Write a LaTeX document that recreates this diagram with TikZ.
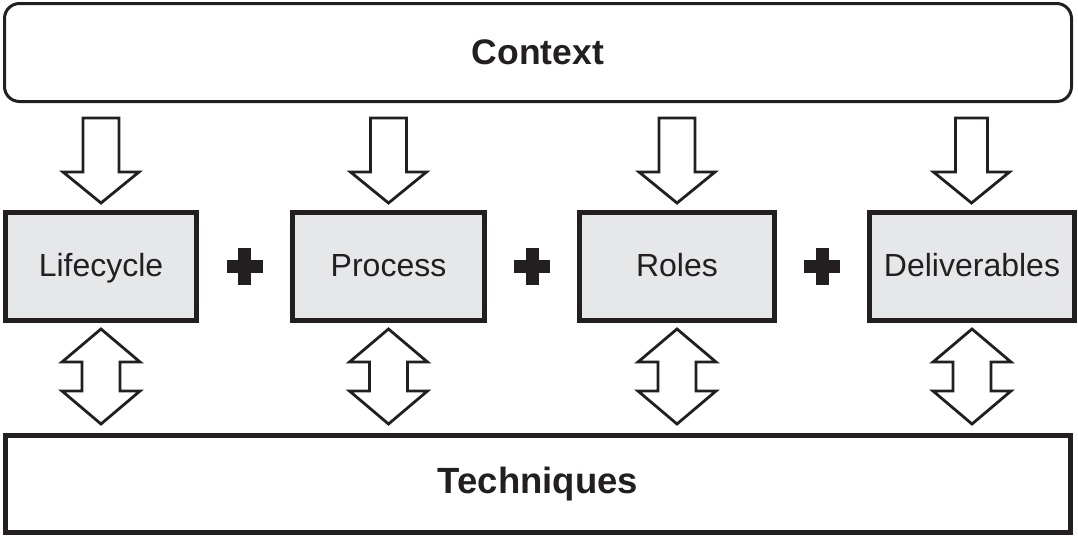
\documentclass[tikz,border=0pt]{standalone}
\usepackage{fontspec}
\setmainfont{Liberation Sans}
\usetikzlibrary{calc}
\definecolor{ink}{HTML}{231F20}
\definecolor{boxfill}{HTML}{E6E7E8}
\tikzset{
  bigbox/.style={draw=ink, line width=#1, inner sep=0pt, text=ink, font=\fontsize{35.5}{40}\selectfont\bfseries},
  midbox/.style={draw=ink, line width=5pt, fill=boxfill, inner sep=0pt, minimum height=108pt, text height=24pt, text depth=5pt, text=ink, font=\fontsize{32}{36}\selectfont},
  blk/.style={draw=ink, line width=2.8pt, fill=white, line join=miter},
  plusmark/.style={fill=ink}
}
\newcommand\downblk[1]{%
  \draw[blk] ($(#1.center)+(-18,-148.5)$) -- ++(0,54) -- ++(-20,0) -- ($(#1.center)+(0,-63.5)$)
    -- ($(#1.center)+(38,-94.5)$) -- ++(-20,0) -- ++(0,-54) -- cycle;}
\newcommand\dblblk[1]{%
  \draw[blk] ($(#1.center)+(0,62.5)$) -- ++(39,33) -- ++(-20,0) -- ++(0,29) -- ++(20,0)
    -- ($(#1.center)+(0,157.5)$) -- ++(-39,-33) -- ++(20,0) -- ++(0,-29) -- ++(-20,0) -- cycle;}
\newcommand\plussign[1]{%
  \fill[plusmark] ($(#1)+(-18,-6.25)$) rectangle ($(#1)+(18,6.25)$);
  \fill[plusmark] ($(#1)+(-6.5,-18.5)$) rectangle ($(#1)+(6.5,18.5)$);}
\begin{document}
\begin{tikzpicture}[x=1pt,y=-1pt]
\useasboundingbox (0,0) rectangle (1078,538);
\node[bigbox=3pt, rounded corners=15pt, minimum width=1067pt, minimum height=98pt] (ctx) at (538,52.5) {Context};
\node[bigbox=5pt, minimum width=1065pt, minimum height=97pt, font=\fontsize{36.5}{40}\selectfont\bfseries] (tq) at (538,484) {\raisebox{3pt}{Techniques}};
\node[midbox, minimum width=191pt] (lc) at (101,266.5) {Lifecycle};
\node[midbox, minimum width=192pt] (pr) at (388.5,266.5) {Process};
\node[midbox, minimum width=195pt] (ro) at (677,266.5) {Roles};
\node[midbox, minimum width=205pt] (de) at (972,266.5) {Deliverables};
\coordinate (p1) at ($(lc.east)!0.5!(pr.west)$);
\coordinate (p2) at ($(pr.east)!0.5!(ro.west)$);
\coordinate (p3) at ($(ro.east)!0.5!(de.west)$);
\plussign{p1}\plussign{p2}\plussign{p3}
\downblk{lc}\downblk{pr}\downblk{ro}
\draw[blk] ($(de.center)+(-16.5,-148.5)$) -- ++(0,54) -- ++(-22,0) -- ($(de.center)+(-0.5,-63.5)$)
    -- ($(de.center)+(37.5,-94.5)$) -- ++(-22,0) -- ++(0,-54) -- cycle;
\dblblk{lc}\dblblk{pr}\dblblk{ro}\dblblk{de}
\end{tikzpicture}
\end{document}
